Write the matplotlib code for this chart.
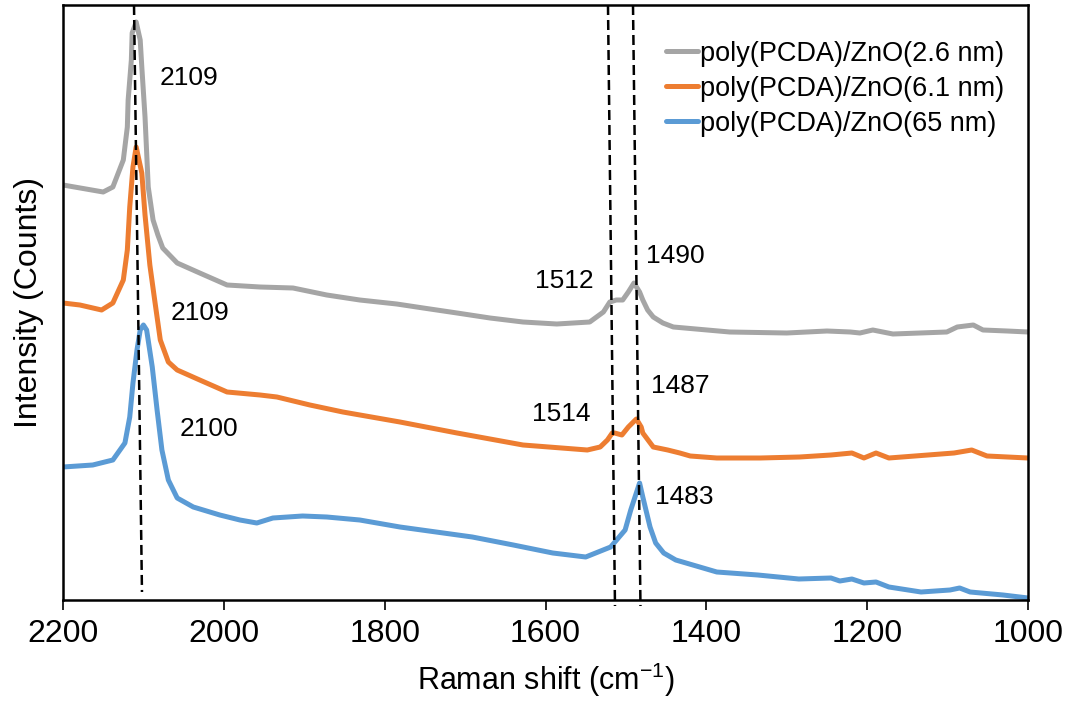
import matplotlib
matplotlib.use("Agg")
import matplotlib.pyplot as plt

plt.rcParams['font.family'] = ['Liberation Sans', 'DejaVu Sans']
plt.rcParams['mathtext.fontset'] = 'custom'
plt.rcParams['mathtext.rm'] = 'Liberation Sans'

# Raman spectra of poly(PCDA)/ZnO films (arbitrary intensity, offset per film)
wn_26 = [2200, 2150, 2138, 2125, 2120, 2119, 2115, 2114, 2109, 2104, 2102, 2098,
         2094, 2088, 2082, 2076, 2058, 2030, 1996, 1955, 1914, 1872, 1831, 1785,
         1752, 1710, 1669, 1628, 1586, 1545, 1528, 1520, 1512, 1504, 1497, 1490,
         1483, 1479, 1473, 1466, 1454, 1441, 1399, 1371, 1300, 1250, 1221, 1209,
         1193, 1168, 1101, 1088, 1068, 1056, 1026, 1000]
int_26 = [415, 408, 413, 440, 473, 500, 540, 567, 578, 560, 533, 483,
          413, 380, 365, 352, 337, 327, 315, 313, 312, 305, 300, 296,
          292, 287, 282, 278, 276, 278, 288, 298, 300, 300, 308, 317,
          308, 300, 290, 283, 277, 273, 270, 268, 267, 269, 268, 267,
          270, 266, 268, 273, 275, 270, 269, 268]

wn_61 = [2200, 2179, 2152, 2138, 2125, 2120, 2117, 2113, 2109, 2102, 2098, 2092,
         2086, 2079, 2069, 2058, 2030, 1996, 1955, 1934, 1893, 1852, 1781, 1710,
         1628, 1548, 1532, 1523, 1517, 1514, 1505, 1497, 1487, 1481, 1479, 1466,
         1448, 1433, 1420, 1387, 1333, 1284, 1245, 1219, 1204, 1189, 1173, 1092,
         1070, 1051, 1000]
int_61 = [297, 295, 290, 297, 320, 350, 393, 433, 453, 427, 385, 335,
          300, 260, 238, 230, 220, 208, 205, 203, 195, 188, 178, 167,
          155, 150, 153, 160, 167, 167, 165, 173, 181, 173, 167, 153,
          150, 147, 144, 142, 142, 143, 145, 147, 142, 147, 142, 147,
          150, 144, 142]

wn_65 = [2200, 2163, 2138, 2123, 2117, 2113, 2108, 2104, 2100, 2096, 2089, 2083,
         2077, 2069, 2058, 2038, 2005, 1980, 1959, 1939, 1902, 1872, 1831, 1781,
         1691, 1640, 1591, 1550, 1519, 1501, 1494, 1483, 1479, 1470, 1463, 1453,
         1438, 1387, 1336, 1285, 1245, 1234, 1219, 1204, 1189, 1173, 1133, 1097,
         1085, 1072, 1031, 1000]
int_65 = [133, 135, 140, 157, 183, 217, 250, 270, 275, 270, 233, 190,
          150, 120, 102, 93, 85, 80, 77, 82, 84, 83, 80, 73,
          63, 55, 47, 43, 53, 70, 90, 117, 103, 73, 57, 47,
          40, 28, 25, 21, 22, 19, 21, 17, 18, 13, 8, 10,
          12, 8, 5, 2]

labels = ["poly(PCDA)/ZnO(2.6 nm)", "poly(PCDA)/ZnO(6.1 nm)", "poly(PCDA)/ZnO(65 nm)"]
colors = ["#A5A5A5", "#ED7D31", "#5B9BD5"]

# guide lines through the peaks: (top position, bottom position, bottom intensity)
guide_top = [2111.7, 1522.3, 1491.2]
guide_bottom = [2101.8, 1513.6, 1481.9]
guide_bottom_int = [8, -6, -6]

# peak labels
peak_text = ["2109", "2109", "2100", "1512", "1490", "1514", "1487", "1483"]
peak_x = [2043, 2030, 2018, 1576, 1438, 1581, 1432, 1428]
peak_y = [522, 287, 171, 319, 344, 186, 214, 103]

fig = plt.figure(figsize=(10.7, 7.01), dpi=100)
ax = fig.add_axes([63 / 1070, 101 / 701, 965 / 1070, 595 / 701])

for wn, inten, c, lab in zip([wn_26, wn_61, wn_65], [int_26, int_61, int_65], colors, labels):
    ax.plot(wn, inten, color=c, lw=3.6, label=lab,
            solid_joinstyle='round', solid_capstyle='round')

for xt, xb, yb in zip(guide_top, guide_bottom, guide_bottom_int):
    ax.plot([xt, xb], [595, yb], color='black', lw=1.8, dashes=(4, 2), clip_on=False)

for t, x, y in zip(peak_text, peak_x, peak_y):
    ax.text(x, y, t, fontsize=19, ha='center', va='center')

ax.set_xlim(2200, 1000)
ax.set_ylim(0, 595)
ax.set_xticks([2200, 2000, 1800, 1600, 1400, 1200, 1000])
ax.set_yticks([])
ax.tick_params(axis='x', direction='out', length=7, width=1.2, labelsize=23, pad=7)
for s in ax.spines.values():
    s.set_linewidth(1.8)
    s.set_color('black')

ax.set_xlabel("Raman shift (cm$^{-1}$)", fontsize=22, labelpad=8)
ax.set_ylabel("Intensity (Counts)", fontsize=23, labelpad=14)

ax.legend(loc='upper right', bbox_to_anchor=(0.975, 0.94), frameon=False,
          fontsize=19.5, handlelength=1.2, handletextpad=0.05, labelspacing=0.33,
          borderpad=0, borderaxespad=0)

fig.savefig("out.png", dpi=100)
